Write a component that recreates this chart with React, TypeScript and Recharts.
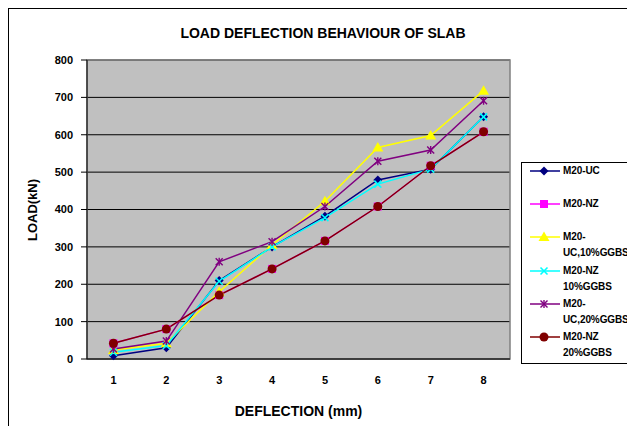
import { LineChart, Line, XAxis, YAxis, CartesianGrid, Legend, ReferenceArea } from "recharts";

const FONT = '"Liberation Sans", Arial, Helvetica, sans-serif';

// deflection in mm (category axis)
const deflection = [1, 2, 3, 4, 5, 6, 7, 8];
const loadTicks = [0, 100, 200, 300, 400, 500, 600, 700, 800];
const bandTicks = [0.5, 1.5, 2.5, 3.5, 4.5, 5.5, 6.5, 7.5, 8.5];

// load in kN
const m20UC = [9, 30, 210, 300, 382, 479, 508, 648];
const m20NZ = [42, 80, 171, 241, 316, 408, 517, 608];
const m20UC10 = [24, 42, 180, 305, 422, 566, 598, 718];
const m20NZ10 = [18, 36, 208, 300, 378, 468, 508, 648];
const m20UC20 = [27, 48, 260, 314, 408, 529, 559, 691];
const m20NZ20 = [42, 80, 171, 241, 316, 408, 517, 608];

const data = deflection.map((x, i) => ({
  x,
  m20UC: m20UC[i],
  m20NZ: m20NZ[i],
  m20UC10: m20UC10[i],
  m20NZ10: m20NZ10[i],
  m20UC20: m20UC20[i],
  m20NZ20: m20NZ20[i],
}));

type Shape = "diamond" | "square" | "triangle" | "cross" | "star" | "circle";

const series: { key: string; name: string; color: string; shape: Shape }[] = [
  { key: "m20UC", name: "M20-UC", color: "#000080", shape: "diamond" },
  { key: "m20NZ", name: "M20-NZ", color: "#FF00FF", shape: "square" },
  { key: "m20UC10", name: "M20-UC,10%GGBS", color: "#FFFF00", shape: "triangle" },
  { key: "m20NZ10", name: "M20-NZ 10%GGBS", color: "#00FFFF", shape: "cross" },
  { key: "m20UC20", name: "M20-UC,20%GGBS", color: "#800080", shape: "star" },
  { key: "m20NZ20", name: "M20-NZ 20%GGBS", color: "#800000", shape: "circle" },
];

function Marker({ shape, cx, cy, color }: { shape: Shape; cx: number; cy: number; color: string }) {
  switch (shape) {
    case "diamond":
      return <polygon points={`${cx},${cy - 4.5} ${cx + 4.5},${cy} ${cx},${cy + 4.5} ${cx - 4.5},${cy}`} fill={color} />;
    case "square":
      return <rect x={cx - 4} y={cy - 4} width={8} height={8} fill={color} />;
    case "triangle":
      return <polygon points={`${cx},${cy - 5.5} ${cx + 5.5},${cy + 4} ${cx - 5.5},${cy + 4}`} fill={color} />;
    case "cross":
      return (
        <g stroke={color} strokeWidth={1.6}>
          <line x1={cx - 3.5} y1={cy - 3.5} x2={cx + 3.5} y2={cy + 3.5} />
          <line x1={cx - 3.5} y1={cy + 3.5} x2={cx + 3.5} y2={cy - 3.5} />
        </g>
      );
    case "star":
      return (
        <g stroke={color} strokeWidth={1.4}>
          <line x1={cx - 3.5} y1={cy - 3.5} x2={cx + 3.5} y2={cy + 3.5} />
          <line x1={cx - 3.5} y1={cy + 3.5} x2={cx + 3.5} y2={cy - 3.5} />
          <line x1={cx} y1={cy - 4} x2={cx} y2={cy + 4} />
        </g>
      );
    default:
      return <circle cx={cx} cy={cy} r={4.5} fill={color} />;
  }
}

function LegendBox({ payload }: any) {
  const keys = ((payload || []) as any[]).map((p) => p.dataKey);
  return (
    <div
      style={{
        border: "1px solid #000",
        borderRight: "none",
        background: "#fff",
        height: 202,
        boxSizing: "border-box",
        fontFamily: FONT,
        fontWeight: "bold",
        fontSize: 10,
        letterSpacing: -0.1,
        color: "#000",
        overflow: "hidden",
      }}
    >
      {series
        .filter((s) => keys.includes(s.key))
        .map((s) => (
          <div key={s.key} style={{ display: "flex", alignItems: "flex-start", height: 33.2 }}>
            <svg width={30} height={16} style={{ marginLeft: 8, flex: "none" }}>
              <line x1={0} y1={8} x2={30} y2={8} stroke={s.color} strokeWidth={1.5} />
              <Marker shape={s.shape} cx={14} cy={8} color={s.color} />
            </svg>
            <div style={{ marginLeft: 3, width: 72, lineHeight: "16px" }}>{s.name}</div>
          </div>
        ))}
    </div>
  );
}

export default function App() {
  return (
    <div
      style={{
        position: "relative",
        width: 627,
        height: 418,
        borderTop: "1px solid #000",
        borderLeft: "1px solid #000",
        boxSizing: "border-box",
        background: "#fff",
        fontFamily: FONT,
      }}
    >
      <div
        style={{
          position: "absolute",
          top: 16,
          left: 0,
          width: 628,
          textAlign: "center",
          fontSize: 14,
          fontWeight: "bold",
          lineHeight: "16px",
          color: "#000",
        }}
      >
        LOAD DEFLECTION BEHAVIOUR OF SLAB
      </div>
      <div
        style={{
          position: "absolute",
          top: 193,
          left: -26,
          width: 100,
          textAlign: "center",
          fontSize: 13,
          fontWeight: "bold",
          lineHeight: "16px",
          color: "#000",
          transform: "rotate(-90deg)",
          zIndex: 1,
        }}
      >
        LOAD(kN)
      </div>
      <LineChart width={626} height={417} data={data} margin={{ top: 51, right: 125, bottom: 5, left: 0 }}>
        <CartesianGrid vertical={false} stroke="#000" fill="#C0C0C0" fillOpacity={1} />
        <ReferenceArea x1={0.5} x2={8.5} y1={0} y2={800} fill="none" stroke="#808080" strokeWidth={1.5} />
        <XAxis
          dataKey="x"
          type="number"
          domain={[0.5, 8.5]}
          ticks={bandTicks}
          tick={false}
          height={6}
          stroke="#000"
          tickLine={{ stroke: "#000" }}
          allowDataOverflow
        />
        <XAxis
          xAxisId="labels"
          dataKey="x"
          type="number"
          domain={[0.5, 8.5]}
          ticks={deflection}
          axisLine={false}
          tickLine={false}
          tickSize={0}
          tickMargin={11}
          height={56}
          tick={{ fill: "#000", fontSize: 11, fontWeight: "bold", fontFamily: FONT }}
          label={{
            value: "DEFLECTION (mm)",
            position: "insideBottom",
            offset: 5,
            fill: "#000",
            fontSize: 14,
            fontWeight: "bold",
            fontFamily: FONT,
          }}
          allowDataOverflow
        />
        <YAxis
          domain={[0, 800]}
          ticks={loadTicks}
          width={78}
          stroke="#000"
          tickSize={6}
          tickMargin={8}
          tick={{ fill: "#000", fontSize: 11, fontWeight: "bold", fontFamily: FONT }}
        />
        <Legend
          layout="vertical"
          align="center"
          verticalAlign="middle"
          content={<LegendBox />}
          wrapperStyle={{ left: 512, top: 153, width: 114 }}
        />
        {series.map((s) => (
          <Line
            key={s.key}
            dataKey={s.key}
            name={s.name}
            stroke={s.color}
            strokeWidth={1.5}
            isAnimationActive={false}
            dot={(p: any) =>
              p.cx == null || p.cy == null ? (
                <g key={`${s.key}-${p.index}`} />
              ) : (
                <g key={`${s.key}-${p.index}`}>
                  <Marker shape={s.shape} cx={p.cx} cy={p.cy} color={s.color} />
                </g>
              )
            }
            activeDot={false}
          />
        ))}
      </LineChart>
    </div>
  );
}
